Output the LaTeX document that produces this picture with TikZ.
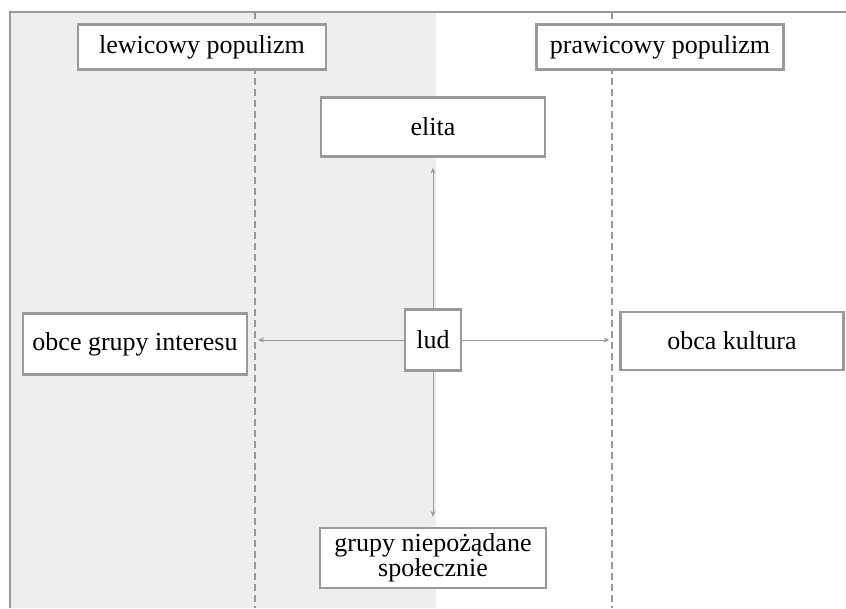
\documentclass[tikz,border=0pt]{standalone}
\usepackage{fontspec}
\setmainfont{Liberation Serif}
\usetikzlibrary{arrows.meta}
\definecolor{framegray}{HTML}{999999}
\definecolor{bgshade}{HTML}{EEEEEE}
\definecolor{arrowgray}{HTML}{9A9A9A}
\begin{document}
\begin{tikzpicture}[x=1pt,y=-1pt,
  box/.style={draw=framegray,line width=2.2pt,fill=white,inner sep=0pt,
    font=\fontsize{26}{22}\selectfont,align=center},
  divider/.style={draw=framegray,line width=2pt,dash pattern=on 7pt off 4pt},
  link/.style={draw=arrowgray,line width=1pt,-{Stealth[length=6pt,width=5pt]},shorten >=10pt}]
\useasboundingbox (0,0) rectangle (846,608);
\fill[white] (0,0) rectangle (846,608);
\fill[bgshade] (10,12) rectangle (436,608);
\draw[framegray,line width=2.2pt] (10,608) -- (10,12) -- (846,12);
\draw[divider] (255,12) -- (255,608);
\draw[divider] (612,12) -- (612,608);
\node[box,minimum width=248pt,minimum height=45pt] (left) at (202,47) {lewicowy populizm};
\node[box,minimum width=247pt,minimum height=45pt] (right) at (660,47) {prawicowy populizm};
\node[box,minimum width=224pt,minimum height=59pt] (elita) at (433,127) {elita};
\node[box,minimum width=56pt,minimum height=61pt] (lud) at (433,340) {lud};
\node[box,minimum width=224pt,minimum height=61pt] (ogi) at (135,344) {obce grupy interesu};
\node[box,minimum width=223pt,minimum height=58pt] (ok) at (732,341) {obca kultura};
\node[box,minimum width=226pt,minimum height=60pt] (gn) at (433,558) {grupy niepożądane\\społecznie};
\draw[link] (lud.north) -- (lud.north |- elita.south);
\draw[link] (lud.west) -- (lud.west -| ogi.east);
\draw[link] (lud.east) -- (lud.east -| ok.west);
\draw[link] (lud.south) -- (lud.south |- gn.north);
\end{tikzpicture}
\end{document}
